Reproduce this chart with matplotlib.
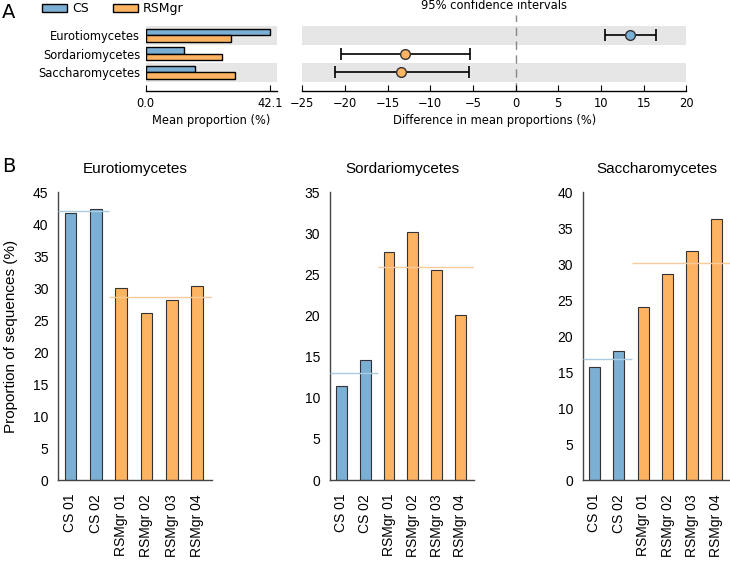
"""STAMP 风格的两组比较图：A 为均值与置信区间，B 为各样本比例。"""
import numpy as np
import matplotlib.pyplot as plt
from matplotlib.patches import Patch

plt.rcParams['font.family'] = ['DejaVu Sans']

BLUE = '#7BAFD4'
ORANGE = '#FDB462'
BLUE_LINE = '#A9CCE3'
ORANGE_LINE = '#F8C99A'
BAND = '#E6E6E6'
FS_A = 8.3

# ===== 数据 =====
classes = ['Eurotiomycetes', 'Sordariomycetes', 'Saccharomycetes']
samples = ['CS 01', 'CS 02', 'RSMgr 01', 'RSMgr 02', 'RSMgr 03', 'RSMgr 04']
n_cs = 2

euro_vals = [41.8, 42.4, 30.1, 26.2, 28.1, 30.4]
sord_vals = [11.4, 14.6, 27.8, 30.2, 25.6, 20.1]
sacc_vals = [15.7, 17.9, 24.1, 28.6, 31.8, 36.3]
class_vals = [euro_vals, sord_vals, sacc_vals]
y_maxes = [45, 35, 40]

ci_low = [10.5, -20.5, -21.2]
ci_high = [16.5, -5.4, -5.5]


def mean_groups(vals):
    return np.mean(vals[:n_cs]), np.mean(vals[n_cs:])


cs_means = [mean_groups(v)[0] for v in class_vals]
rs_means = [mean_groups(v)[1] for v in class_vals]
diffs = [c - r for c, r in zip(cs_means, rs_means)]

fig = plt.figure(figsize=(7.3, 5.63), dpi=100)

# ===== A：均值条形图 =====
rows = np.arange(len(classes))[::-1]
ax_bar = fig.add_axes([0.1996, 0.8384, 0.1795, 0.135])
ax_ci = fig.add_axes([0.4141, 0.8384, 0.526, 0.135])

for ax in (ax_bar, ax_ci):
    ax.set_ylim(-1.0, 3.1)
    for r in rows[::2]:
        ax.axhspan(r - 0.5, r + 0.5, color=BAND, zorder=0, lw=0)
    for s in ('left', 'right', 'top'):
        ax.spines[s].set_visible(False)
    ax.spines['bottom'].set_linewidth(1.0)
    ax.tick_params(axis='x', direction='in', length=4, labelsize=FS_A, pad=4)
    ax.tick_params(axis='y', length=0, labelsize=FS_A, pad=4)

bh = 0.35
ax_bar.barh(rows + bh / 2, cs_means, height=bh, color=BLUE, edgecolor='black', lw=1, zorder=2)
ax_bar.barh(rows - bh / 2, rs_means, height=bh, color=ORANGE, edgecolor='black', lw=1, zorder=2)
ax_bar.set_xlim(0, 44.3)
ax_bar.set_xticks([0, 42.1])
ax_bar.set_xticklabels(['0.0', '42.1'])
ax_bar.set_yticks(rows)
ax_bar.set_yticklabels(classes)
ax_bar.set_xlabel('Mean proportion (%)', fontsize=FS_A, labelpad=3)

ax_ci.axvline(0, ls=(0, (6, 4)), color='#888888', lw=1, zorder=1)
for r, d, lo, hi in zip(rows, diffs, ci_low, ci_high):
    col = BLUE if d > 0 else ORANGE
    ax_ci.errorbar(d, r, xerr=[[d - lo], [hi - d]], fmt='o', color=col,
                   markeredgecolor='#333333', markersize=7, ecolor='black',
                   elinewidth=1.2, capsize=4, capthick=1.2, zorder=3)
ax_ci.set_xlim(-25, 20)
ax_ci.set_xticks(np.arange(-25, 21, 5))
ax_ci.set_yticks([])
ax_ci.set_xlabel('Difference in mean proportions (%)', fontsize=FS_A, labelpad=3)
ax_ci.set_title('95% confidence intervals', fontsize=FS_A, pad=4)

fig.legend(handles=[Patch(facecolor=BLUE, edgecolor='black', lw=1, label='CS'),
                    Patch(facecolor=ORANGE, edgecolor='black', lw=1, label='RSMgr')],
           loc='upper left', bbox_to_anchor=(0.058, 0.996), ncol=2, frameon=False,
           fontsize=9, handlelength=2.0, handleheight=0.6, handletextpad=0.4,
           columnspacing=1.9, borderpad=0, borderaxespad=0)

fig.text(0.003, 0.978, 'A', fontsize=14, va='center', ha='left')
fig.text(0.003, 0.705, 'B', fontsize=14, va='center', ha='left')

# ===== B：各样本比例 =====
panel_pos = [[0.0799, 0.1474, 0.2101, 0.511],
             [0.4521, 0.1474, 0.1973, 0.511],
             [0.7982, 0.1474, 0.2027, 0.511]]
colors = [BLUE] * n_cs + [ORANGE] * (len(samples) - n_cs)
x = np.arange(len(samples))
xmin, xmax = -0.48, 5.58
split = n_cs - 0.47

for i, (name, vals, ymax, pos) in enumerate(zip(classes, class_vals, y_maxes, panel_pos)):
    ax = fig.add_axes(pos)
    ax.bar(x, vals, width=0.46, color=colors, edgecolor='#333333', lw=0.8, zorder=2)
    cm, rm = mean_groups(vals)
    ax.hlines(cm, xmin, split, color=BLUE_LINE, lw=1, zorder=3)
    ax.hlines(rm, split, xmax, color=ORANGE_LINE, lw=1, zorder=3)
    ax.set_xlim(xmin, xmax)
    ax.set_ylim(0, ymax)
    ax.set_yticks(np.arange(0, ymax + 1, 5))
    ax.set_xticks(x)
    ax.set_xticklabels(samples, rotation=90, family='Liberation Sans', fontsize=10)
    for lab in ax.get_yticklabels():
        lab.set_family('Liberation Sans')
    ax.tick_params(axis='both', length=0, labelsize=10)
    ax.tick_params(axis='x', pad=10)
    ax.tick_params(axis='y', pad=7)
    for s in ('right', 'top'):
        ax.spines[s].set_visible(False)
    for s in ('left', 'bottom'):
        ax.spines[s].set_color('#444444')
        ax.spines[s].set_linewidth(1.0)
    ax.set_title(name, fontsize=11, family='Liberation Sans', pad=14)
    if i == 0:
        ax.set_ylabel('Proportion of sequences (%)', fontsize=11, family='Liberation Sans')
        ax.yaxis.set_label_coords(-0.265, 0.5)

fig.savefig('out.png', dpi=100)
